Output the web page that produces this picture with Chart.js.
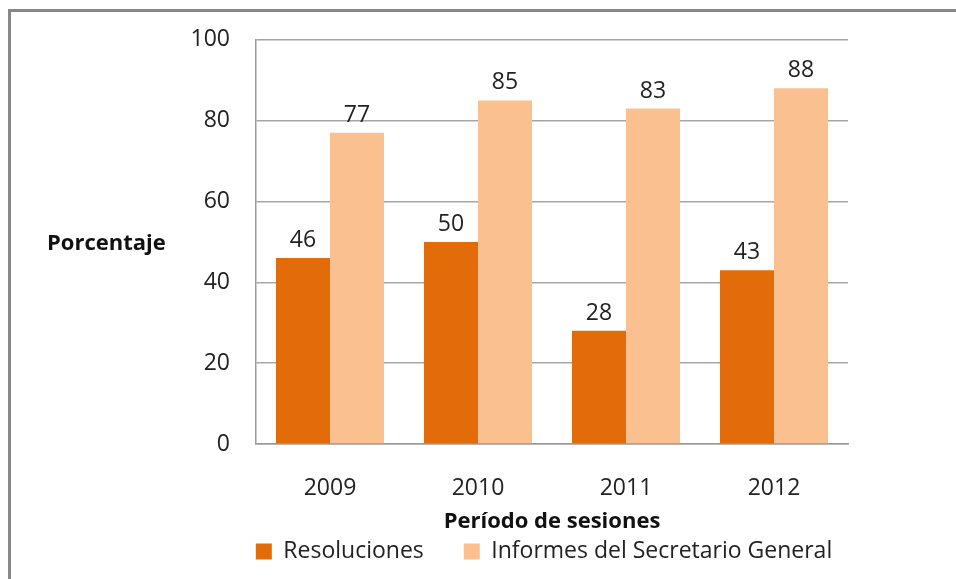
<!DOCTYPE html>
<html><head><meta charset="utf-8">
<script src="https://cdn.jsdelivr.net/npm/chart.js@4"></script>
<style>
html,body{margin:0;padding:0;background:#fff;}
#wrap{position:relative;width:956px;height:579px;overflow:hidden;}
#frame{position:absolute;left:8px;top:9px;right:-10px;bottom:-10px;border-left:3px solid #888;border-top:3px solid #888;pointer-events:none;}
canvas{position:absolute;left:0;top:0;}
</style></head>
<body><div id="wrap"><canvas id="c" width="956" height="579"></canvas><div id="frame"></div></div>
<script>
const categories = ["2009","2010","2011","2012"];
const resoluciones = [46,50,28,43];
const informes = [77,85,83,88];
const seriesNames = ["Resoluciones","Informes del Secretario General"];
const yTicks = [0,20,40,60,80,100];
const yTitle = "Porcentaje";
const xTitle = "Período de sesiones";

const FONT = "'Open Sans', 'DejaVu Sans', sans-serif";

const labelsPlugin = {
  id:'valueLabels',
  afterDatasetsDraw(chart){
    const ctx = chart.ctx;
    ctx.save();
    ctx.font = "23px " + FONT;
    ctx.fillStyle = "#222";
    ctx.textAlign = "center";
    ctx.textBaseline = "alphabetic";
    chart.data.datasets.forEach((ds,i)=>{
      const meta = chart.getDatasetMeta(i);
      meta.data.forEach((bar,j)=>{
        ctx.fillText(String(ds.data[j]), bar.x, bar.y - 11);
      });
    });
    ctx.restore();
  }
};
const yTitlePlugin = {
  id:'yTitleH',
  afterDraw(chart){
    const ctx = chart.ctx;
    ctx.save();
    ctx.font = "bold 22px " + FONT;
    ctx.fillStyle = "#111";
    ctx.textAlign = "left";
    ctx.textBaseline = "middle";
    ctx.fillText(yTitle, 47, chart.scales.y.getPixelForValue(49.5));
    ctx.restore();
  }
};
const legendShift = {
  id:'legendShift',
  afterLayout(chart){
    const lg = chart.legend;
    if (lg) { lg.left += 120; lg.right += 120; }
  }
};

new Chart(document.getElementById('c'), {
  type:'bar',
  data:{
    labels:categories,
    datasets:[
      {label:seriesNames[0], data:resoluciones, backgroundColor:'#E36C0A', barPercentage:1, categoryPercentage:0.73},
      {label:seriesNames[1], data:informes, backgroundColor:'#FAC090', barPercentage:1, categoryPercentage:0.73}
    ]
  },
  options:{
    responsive:false, animation:false,
    layout:{padding:{top:34,right:108,left:0,bottom:6}},
    plugins:{
      legend:{position:'bottom', labels:{font:{size:23,family:FONT}, color:'#222', boxWidth:16, boxHeight:16, padding:40}},
      tooltip:{enabled:false}
    },
    scales:{
      x:{
        afterFit(s){ s.height = 56; },
        grid:{display:false, drawTicks:false},
        border:{display:true,color:'#999',width:1.5},
        ticks:{font:{size:23,family:FONT}, color:'#222', padding:31},
        title:{display:true, text:xTitle, font:{size:22,weight:'bold',family:FONT}, color:'#111', padding:{top:0,bottom:-35}}
      },
      y:{
        min:0,max:100,
        afterFit(s){ s.width = 256; },
        afterBuildTicks(s){ s.ticks = yTicks.map(v=>({value:v})); },
        grid:{color:'#a6a6a6', lineWidth:1.5, drawTicks:false},
        border:{display:true,color:'#999',width:1.5},
        ticks:{font:{size:23,family:FONT}, color:'#222', padding:26}
      }
    }
  },
  plugins:[labelsPlugin, yTitlePlugin, legendShift]
});
</script></body></html>
